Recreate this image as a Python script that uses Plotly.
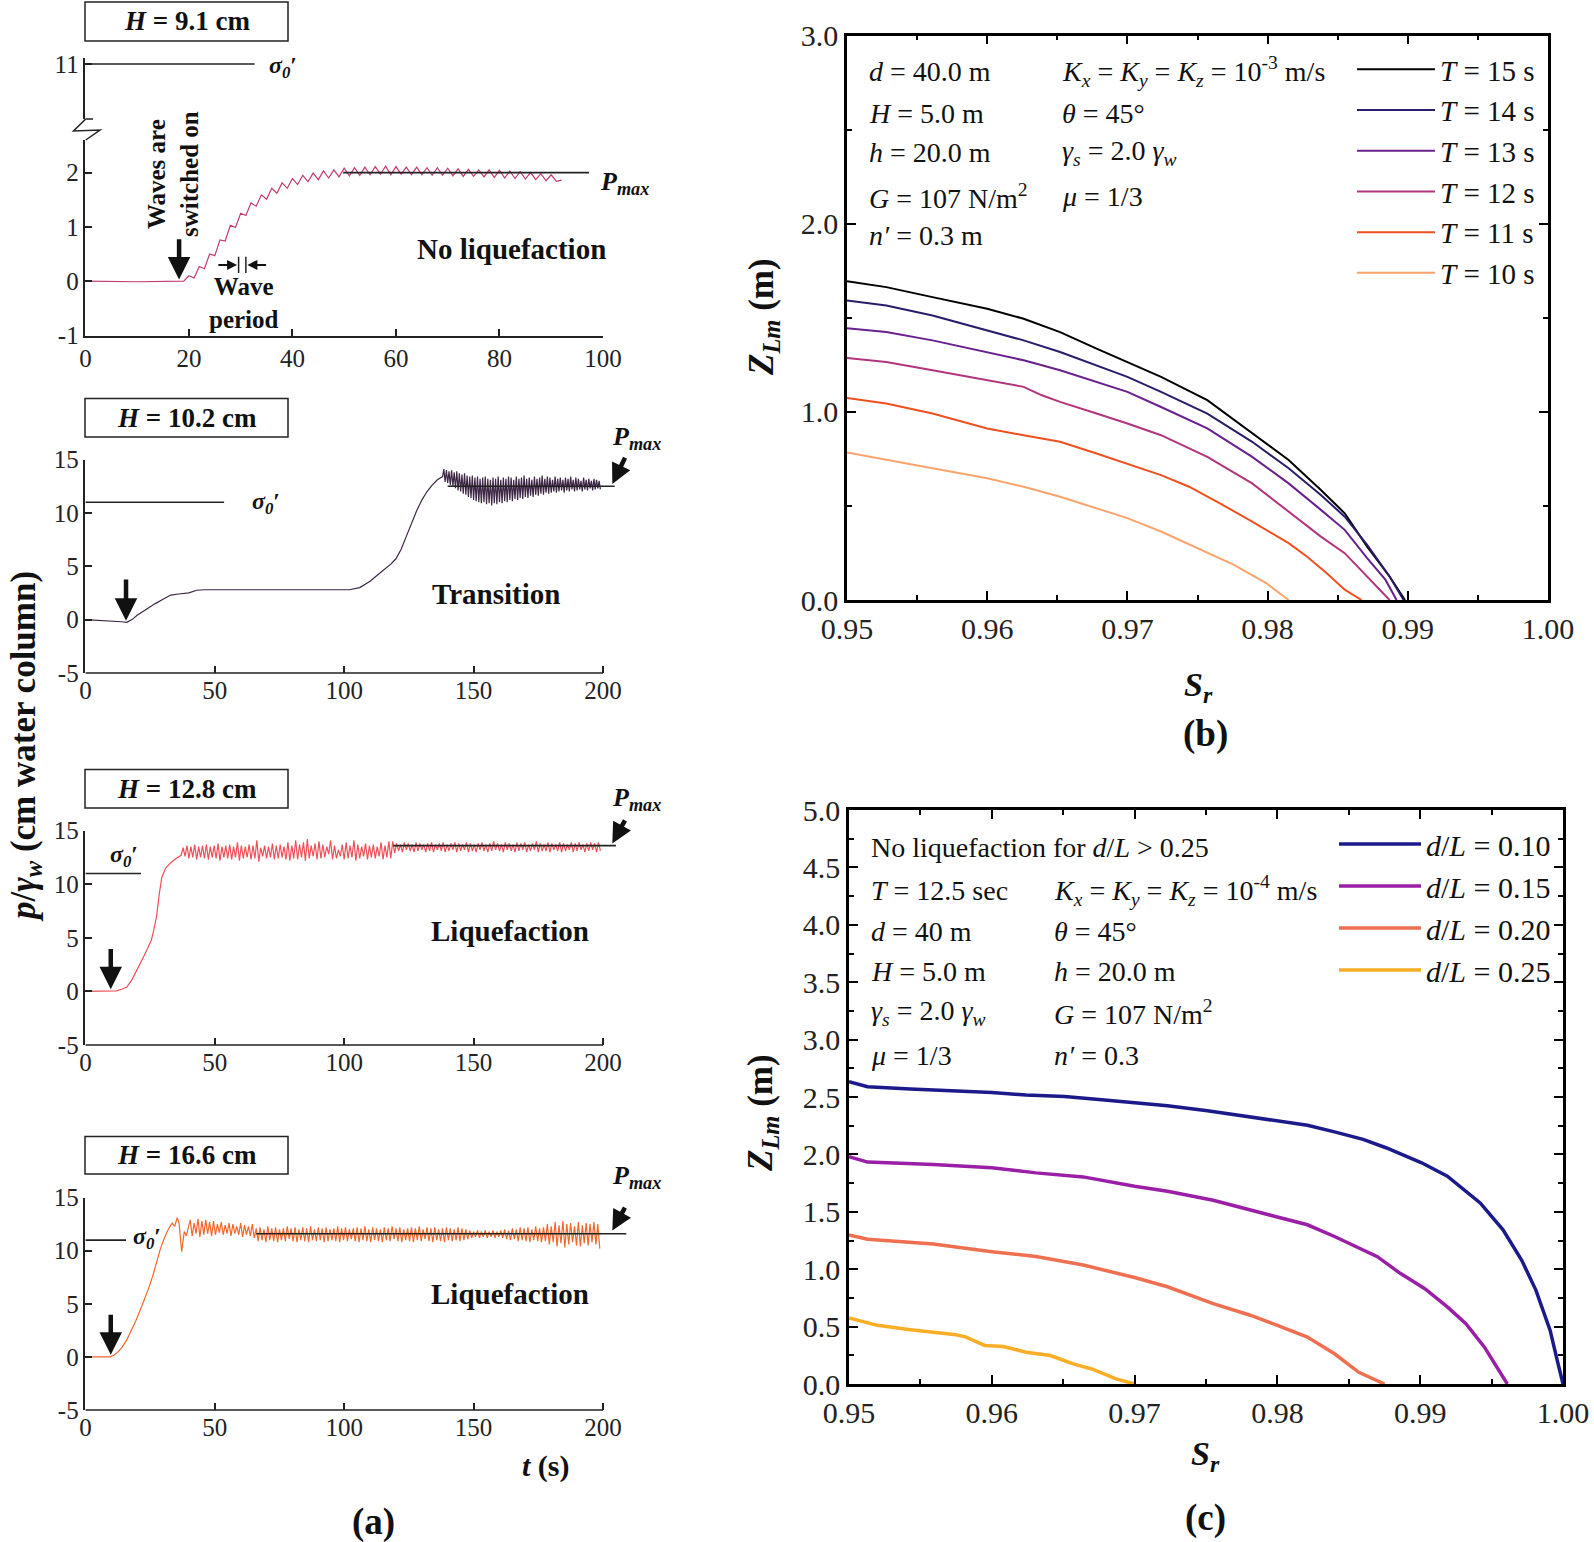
import numpy as np
import plotly.graph_objects as go

W, H = 1594, 1542
FONT = "Liberation Serif"


def px(x):
    return x / W


def py(y):
    return 1 - y / H


# ======================= Panel (a) data =======================
sigma0 = 11.0
a1_ticks_t = [0, 20, 40, 60, 80, 100]
a_ticks_t = [0, 50, 100, 150, 200]
a_ticks_p = [-5, 0, 5, 10, 15]
a_ticks_p_text = ["-5", "0", "5", "10", "15"]
a1_ticks_low = [-1, 0, 1, 2]
a1_ticks_low_text = ["-1", "0", "1", "2"]
a1_ticks_up = [11]

# H = 9.1 cm  (no liquefaction)
a1_t_start = [0, 10, 19]
a1_p_start = [0.0, -0.01, 0.0]
a1_osc_t0, a1_osc_period = 20, 2.0
a1_peaks = [0.10, 0.27, 0.50, 0.76, 1.03, 1.25, 1.44, 1.59, 1.71, 1.81, 1.89, 1.95,
            1.99, 2.03, 2.05, 2.08, 2.09, 2.10, 2.11, 2.12, 2.11, 2.10, 2.10, 2.09,
            2.09, 2.08, 2.07, 2.06, 2.05, 2.05, 2.04, 2.03, 2.02, 2.00, 1.98, 1.96]
a1_troughs = [0.06, 0.23, 0.47, 0.74, 0.99, 1.21, 1.38, 1.51, 1.62, 1.71, 1.78, 1.83,
              1.87, 1.90, 1.92, 1.94, 1.95, 1.96, 1.97, 1.96, 1.97, 1.96, 1.96, 1.95,
              1.95, 1.94, 1.93, 1.93, 1.92, 1.91, 1.90, 1.89, 1.88, 1.87, 1.85, 1.84]
a1_t_end = [92]
a1_p_end = [1.86]
a1_pmax, a1_pmax_span = 2.0, [49.8, 97.3]
a1_sigma_span = [0, 32.7]

# H = 10.2 cm  (transition)
a2_t_start = [0, 5, 10, 14, 16, 18, 20, 23, 27, 30, 33, 36, 40, 43, 46, 60, 80, 102,
              106, 110, 113, 116, 118, 120, 122, 124, 126, 128, 130, 132, 134, 136, 138]
a2_p_start = [0.0, -0.05, -0.1, -0.2, -0.25, 0.0, 0.4, 0.9, 1.5, 1.9, 2.3, 2.4, 2.5, 2.75,
              2.8, 2.8, 2.8, 2.8, 3.0, 3.6, 4.2, 4.8, 5.2, 5.7, 6.6, 7.8, 9.1, 10.2, 11.2,
              12.0, 12.6, 13.1, 13.4]
a2_osc_t0, a2_osc_period = 138.5, 1.0
a2_peaks = [14.1, 14.0, 13.9, 14.0, 13.8, 13.9, 13.7, 13.6, 13.7, 13.5,
            13.4, 13.5, 13.3, 13.4, 13.2, 13.3, 13.4, 13.2, 13.1, 13.3,
            13.2, 13.4, 13.1, 13.3, 13.2, 13.4, 13.3, 13.1, 13.4, 13.2,
            13.3, 13.5, 13.2, 13.3, 13.1, 13.4, 13.2, 13.3, 13.5, 13.2,
            13.4, 13.3, 13.1, 13.4, 13.2, 13.3, 13.1, 13.3, 13.2, 13.4,
            13.1, 13.3, 13.2, 13.0, 13.3, 13.1, 13.2, 13.0, 13.2, 13.1, 13.0]
a2_troughs = [12.9, 12.8, 12.6, 12.5, 12.3, 12.1, 12.0, 11.8, 11.7, 11.5,
              11.4, 11.2, 11.1, 11.0, 10.9, 11.0, 10.8, 10.9, 10.7, 10.9,
              10.8, 11.0, 10.9, 11.1, 11.0, 11.2, 11.1, 11.3, 11.2, 11.4,
              11.3, 11.5, 11.4, 11.6, 11.5, 11.7, 11.6, 11.8, 11.7, 11.9,
              11.8, 11.9, 12.0, 11.9, 12.0, 12.1, 11.9, 12.1, 12.0, 12.2,
              12.0, 12.1, 12.2, 12.0, 12.2, 12.1, 12.3, 12.1, 12.2, 12.3, 12.2]
a2_pmax, a2_pmax_span = 12.5, [140, 204.5]
a2_sigma_span = [0, 53.6]

# H = 12.8 cm  (liquefaction)
a3_t_start = [0, 10, 12, 14, 16, 18, 20, 22, 24, 25.5, 26.5, 27.5, 28.5, 29.5, 31, 33, 35, 37]
a3_p_start = [0.0, 0.0, 0.05, 0.2, 0.4, 1.1, 2.0, 3.0, 4.0, 4.8, 5.8, 7.0, 9.0, 10.6,
              11.5, 12.0, 12.4, 12.7]
a3_osc_t0, a3_osc_period = 37.75, 1.5
a3_peaks = [13.4, 13.6, 13.5, 13.7, 13.5, 13.6, 13.7, 13.5, 13.6, 13.8,
            13.5, 13.6, 13.7, 13.5, 13.9, 13.6, 13.5, 13.7, 13.6, 14.1,
            13.4, 13.6, 13.5, 13.8, 13.6, 13.7, 13.5, 13.9, 13.6, 14.1,
            13.7, 13.9, 14.2, 13.6, 13.8, 14.0, 13.7, 13.5, 14.1, 13.6,
            13.2, 13.7, 13.9, 13.6, 14.1, 13.7, 13.5, 13.8, 13.6, 13.7,
            13.5, 13.9, 13.6, 14.0,
            14.0, 13.8, 13.7, 13.9, 13.8, 13.7, 13.9, 13.8, 13.7, 13.8,
            13.9, 13.7, 13.8, 13.9, 13.7, 13.8, 13.9, 13.8, 13.7, 13.9,
            13.8, 13.7, 13.8, 13.9, 13.7, 13.8, 14.0, 13.8, 13.7, 13.9,
            13.8, 13.7, 13.9, 13.8, 13.9, 13.7, 13.8, 14.0, 13.8, 13.7,
            13.9, 13.8, 13.7, 13.9, 13.8, 13.7, 13.9, 13.8, 13.9, 13.7,
            13.8, 13.9, 13.8, 13.9]
a3_troughs = [12.6, 12.4, 12.5, 12.3, 12.5, 12.4, 12.3, 12.5, 12.4, 12.2,
              12.5, 12.4, 12.3, 12.5, 12.2, 12.4, 12.5, 12.3, 12.4, 12.1,
              12.6, 12.4, 12.5, 12.3, 12.4, 12.5, 12.3, 12.2, 12.4, 12.3,
              12.5, 12.2, 12.4, 12.6, 12.3, 12.4, 12.5, 12.8, 12.3, 12.4,
              12.6, 12.3, 12.4, 12.5, 12.2, 12.4, 12.6, 12.3, 12.5, 12.4,
              12.6, 12.3, 12.5, 12.4,
              12.9, 13.1, 13.0, 13.2, 13.1, 13.0, 13.1, 13.2, 13.0, 13.1,
              13.0, 13.2, 13.1, 13.0, 13.1, 13.2, 13.0, 13.1, 13.2, 13.0,
              13.1, 13.0, 13.2, 13.1, 13.0, 13.1, 13.2, 13.1, 13.0, 13.2,
              13.1, 13.0, 13.1, 13.2, 13.0, 13.1, 13.2, 13.0, 13.1, 13.1,
              13.0, 13.2, 13.1, 13.0, 13.1, 13.2, 13.0, 13.1, 13.2, 13.0,
              13.1, 13.2, 13.0, 13.1]
a3_pmax, a3_pmax_span = 13.6, [119, 205]
a3_sigma_span = [0, 21.5]

# H = 16.6 cm  (liquefaction)
a4_t_start = [0, 9.5, 11, 12.5, 14, 16, 17.5, 19.5, 21.5, 23, 24.5, 26, 27.5, 29, 30.5, 32,
              33.5, 34.5, 35.5, 36.2, 37.2, 38.2, 39, 40]
a4_p_start = [0.0, 0.0, 0.15, 0.45, 0.85, 1.6, 2.4, 3.4, 4.6, 5.5, 6.5, 7.6, 8.9, 10.2,
              11.2, 12.0, 12.6, 12.3, 13.1, 12.6, 9.9, 11.8, 11.4, 12.3]
a4_osc_t0, a4_osc_period = 40.5, 1.5
a4_peaks = [12.9, 12.6, 13.0, 12.8, 12.9, 12.7, 12.8, 12.5, 12.7, 12.4, 12.6, 12.5, 12.3,
            12.6, 12.4, 12.3, 12.5,
            12.1, 12.2, 12.0, 12.3, 12.1, 12.2, 12.0, 12.1, 12.3, 12.1,
            12.2, 12.0, 12.2, 12.1, 12.3, 12.0, 12.2, 12.1, 12.2, 12.0,
            12.1, 12.3, 12.1, 12.2, 12.0, 12.1, 12.2, 12.1, 12.3, 12.0,
            12.2, 12.1, 12.0, 12.2, 12.1, 12.3, 12.1, 12.2, 12.0, 12.1,
            12.2, 12.1, 12.3, 12.0, 12.2, 12.1, 12.2, 12.0, 12.1, 12.2,
            12.1, 12.0, 12.2, 12.1, 12.0, 11.9, 11.8, 11.9, 11.8, 11.9,
            11.8, 11.9, 11.8, 11.9, 12.0, 11.9, 12.1, 12.0, 12.2, 12.1,
            12.2, 12.0, 12.3, 12.1, 12.2,
            12.5, 12.3, 12.7, 12.4, 12.8, 12.5, 12.6, 12.3, 12.7, 12.4, 12.6, 12.5, 12.7, 12.5]
a4_troughs = [11.4, 11.6, 11.3, 11.5, 11.6, 11.4, 11.5, 11.7, 11.5, 11.6, 11.4, 11.6, 11.5,
              11.3, 11.5, 11.4, 11.2,
              10.9, 11.0, 10.8, 11.0, 10.9, 10.8, 11.0, 10.9, 11.1, 10.9,
              10.8, 11.0, 10.9, 10.8, 11.0, 10.9, 11.0, 10.8, 10.9, 11.0,
              10.9, 10.8, 11.0, 10.9, 11.1, 10.9, 10.8, 11.0, 10.9, 10.8,
              11.0, 10.9, 10.8, 11.0, 10.9, 11.1, 10.9, 10.8, 11.0, 10.9,
              10.8, 11.0, 10.9, 11.1, 10.9, 10.8, 11.0, 10.9, 10.8, 11.0,
              10.9, 11.0, 10.9, 11.0, 11.1, 11.2, 11.3, 11.2, 11.3, 11.2,
              11.3, 11.2, 11.3, 11.2, 11.1, 11.0, 11.1, 10.9, 11.0, 10.9,
              10.8, 11.0, 10.9, 10.8, 10.9,
              10.6, 10.8, 10.4, 10.7, 10.3, 10.6, 10.8, 10.5, 10.4, 10.7, 10.5, 10.8, 10.6, 10.2]
a4_pmax, a4_pmax_span = 11.6, [66, 209]
a4_sigma_span = [0, 15.7]

# ======================= Panel (b) data =======================
b_names = ["<i>T</i> = 15 s", "<i>T</i> = 14 s", "<i>T</i> = 13 s",
           "<i>T</i> = 12 s", "<i>T</i> = 11 s", "<i>T</i> = 10 s"]
b_colors = ["#000000", "#2b1b6c", "#68208c", "#b2347c", "#ee5020", "#f9a46c"]
b_T15_sr = [0.950, 0.9528, 0.9561, 0.9600, 0.9626, 0.9652, 0.9678, 0.9700, 0.9724, 0.9757,
            0.9789, 0.9815, 0.9838, 0.9855, 0.9871, 0.9887, 0.9898]
b_T15_z = [1.694, 1.663, 1.61, 1.548, 1.495, 1.424, 1.336, 1.265, 1.186, 1.062,
           0.885, 0.744, 0.585, 0.461, 0.284, 0.125, 0.0]
b_T14_sr = [0.950, 0.9528, 0.9561, 0.9600, 0.9626, 0.9652, 0.9678, 0.9700, 0.9724, 0.9757,
            0.9789, 0.9815, 0.9838, 0.9855, 0.9871, 0.9887, 0.9897]
b_T14_z = [1.592, 1.565, 1.512, 1.433, 1.38, 1.318, 1.247, 1.186, 1.106, 0.991,
           0.841, 0.70, 0.558, 0.443, 0.293, 0.125, 0.0]
b_T13_sr = [0.950, 0.9528, 0.9561, 0.9600, 0.9626, 0.9652, 0.9678, 0.9700, 0.9724, 0.9757,
            0.9789, 0.9815, 0.9838, 0.9855, 0.9871, 0.9884, 0.9892]
b_T13_z = [1.445, 1.424, 1.38, 1.318, 1.274, 1.221, 1.159, 1.106, 1.026, 0.912,
           0.761, 0.62, 0.479, 0.373, 0.223, 0.108, 0.0]
b_T12_sr = [0.950, 0.9528, 0.9561, 0.9600, 0.9626, 0.9639, 0.9652, 0.9678, 0.9700, 0.9724,
            0.9757, 0.9789, 0.9815, 0.9838, 0.9855, 0.9871, 0.9887]
b_T12_z = [1.286, 1.265, 1.221, 1.168, 1.133, 1.088, 1.053, 0.991, 0.938, 0.876,
           0.761, 0.62, 0.47, 0.337, 0.249, 0.125, 0.0]
b_T11_sr = [0.950, 0.9528, 0.9561, 0.9600, 0.9626, 0.9652, 0.9678, 0.9700, 0.9724, 0.9744,
            0.9766, 0.9789, 0.9815, 0.9828, 0.9842, 0.9855, 0.9867]
b_T11_z = [1.074, 1.044, 0.991, 0.912, 0.876, 0.841, 0.779, 0.726, 0.664, 0.602,
           0.514, 0.417, 0.302, 0.231, 0.143, 0.055, 0.0]
b_T10_sr = [0.950, 0.9528, 0.9561, 0.9600, 0.9626, 0.9652, 0.9678, 0.9700, 0.9724, 0.9737,
            0.9757, 0.9776, 0.9799, 0.9815]
b_T10_z = [0.784, 0.744, 0.70, 0.647, 0.602, 0.549, 0.488, 0.435, 0.364, 0.32,
           0.249, 0.187, 0.09, 0.0]
b_sr = [b_T15_sr, b_T14_sr, b_T13_sr, b_T12_sr, b_T11_sr, b_T10_sr]
b_z = [b_T15_z, b_T14_z, b_T13_z, b_T12_z, b_T11_z, b_T10_z]

# ======================= Panel (c) data =======================
c_names = ["<i>d</i>/<i>L</i> = 0.10", "<i>d</i>/<i>L</i> = 0.15",
           "<i>d</i>/<i>L</i> = 0.20", "<i>d</i>/<i>L</i> = 0.25"]
c_colors = ["#1b1a8a", "#9a1fa6", "#ee7050", "#f9ae26"]
c_010_sr = [0.950, 0.9513, 0.9543, 0.9575, 0.9600, 0.9624, 0.9651, 0.9677, 0.9700, 0.9723,
            0.9751, 0.9772, 0.9800, 0.9821, 0.9840, 0.9860, 0.9876, 0.9901, 0.9919, 0.9942,
            0.9958, 0.9971, 0.9981, 0.9991, 0.9996, 1.0000]
c_010_z = [2.634, 2.59, 2.569, 2.549, 2.54, 2.517, 2.505, 2.476, 2.453, 2.423,
           2.38, 2.342, 2.292, 2.254, 2.196, 2.131, 2.058, 1.927, 1.81, 1.577,
           1.343, 1.08, 0.818, 0.467, 0.204, 0.0]
c_015_sr = [0.950, 0.9513, 0.9559, 0.9600, 0.9631, 0.9664, 0.9700, 0.9723, 0.9755, 0.9800,
            0.9821, 0.9840, 0.9870, 0.9886, 0.9903, 0.9919, 0.9932, 0.9945, 0.9955, 0.9961]
c_015_z = [1.98, 1.933, 1.912, 1.883, 1.839, 1.804, 1.723, 1.679, 1.60, 1.46,
           1.387, 1.285, 1.109, 0.964, 0.832, 0.672, 0.526, 0.321, 0.117, 0.0]
c_020_sr = [0.950, 0.9513, 0.9559, 0.9600, 0.9631, 0.9664, 0.9700, 0.9723, 0.9755, 0.9781,
            0.9800, 0.9821, 0.9840, 0.9857, 0.9875]
c_020_z = [1.299, 1.261, 1.22, 1.153, 1.11, 1.036, 0.928, 0.847, 0.70, 0.599,
           0.511, 0.409, 0.263, 0.102, 0.0]
c_025_sr = [0.950, 0.9520, 0.9543, 0.9575, 0.9582, 0.9595, 0.9608, 0.9624, 0.9641, 0.9657,
            0.9670, 0.9687, 0.9700]
c_025_z = [0.575, 0.511, 0.473, 0.429, 0.409, 0.336, 0.327, 0.277, 0.248, 0.175,
           0.131, 0.044, 0.0]
c_sr = [c_010_sr, c_015_sr, c_020_sr, c_025_sr]
c_z = [c_010_z, c_015_z, c_020_z, c_025_z]


def build(t_s, p_s, t0, per, peaks, troughs, t_e=(), p_e=()):
    t, p = list(t_s), list(p_s)
    for i, (hi, lo) in enumerate(zip(peaks, troughs)):
        t += [t0 + i * per, t0 + i * per + per / 2]
        p += [hi, lo]
    return t + list(t_e), p + list(p_e)


a1_t, a1_p = build(a1_t_start, a1_p_start, a1_osc_t0, a1_osc_period, a1_peaks, a1_troughs,
                   a1_t_end, a1_p_end)
a2_t, a2_p = build(a2_t_start, a2_p_start, a2_osc_t0, a2_osc_period, a2_peaks, a2_troughs)
a3_t, a3_p = build(a3_t_start, a3_p_start, a3_osc_t0, a3_osc_period, a3_peaks, a3_troughs)
a4_t, a4_p = build(a4_t_start, a4_p_start, a4_osc_t0, a4_osc_period, a4_peaks, a4_troughs)

fig = go.Figure()

# --- panel (a) traces ---
a_series = [
    ("x", "y", a1_t, a1_p, "#c33a73"),
    ("x3", "y3", a2_t, a2_p, "#3d2745"),
    ("x4", "y4", a3_t, a3_p, "#f0505a"),
    ("x5", "y5", a4_t, a4_p, "#f3672b"),
]
for xa, ya, t, p, col in a_series:
    fig.add_trace(go.Scatter(x=t, y=p, mode="lines", line=dict(color=col, width=1.2),
                             xaxis=xa, yaxis=ya, showlegend=False, hoverinfo="skip"))

# reference lines (sigma0' and Pmax)
ref_lines = [
    ("x2", "y2", a1_sigma_span, sigma0),
    ("x", "y", a1_pmax_span, a1_pmax),
    ("x3", "y3", a2_sigma_span, sigma0),
    ("x3", "y3", a2_pmax_span, a2_pmax),
    ("x4", "y4", a3_sigma_span, sigma0),
    ("x4", "y4", a3_pmax_span, a3_pmax),
    ("x5", "y5", a4_sigma_span, sigma0),
    ("x5", "y5", a4_pmax_span, a4_pmax),
]
for xa, ya, span, val in ref_lines:
    fig.add_trace(go.Scatter(x=span, y=[val, val], mode="lines",
                             line=dict(color="#222", width=1.6),
                             xaxis=xa, yaxis=ya, showlegend=False, hoverinfo="skip"))

# --- panel (b) traces ---
for name, col, sr, z in zip(b_names, b_colors, b_sr, b_z):
    fig.add_trace(go.Scatter(x=sr, y=z, mode="lines", name=name, line=dict(color=col, width=2),
                             xaxis="x6", yaxis="y6", legend="legend", legendgroup=name))
# --- panel (c) traces ---
for name, col, sr, z in zip(c_names, c_colors, c_sr, c_z):
    fig.add_trace(go.Scatter(x=sr, y=z, mode="lines", name=name, line=dict(color=col, width=3.5),
                             xaxis="x7", yaxis="y7", legend="legend2", legendgroup=name))

# ---------------- axes ----------------
A_TICKFONT = dict(family=FONT, size=25, color="#222")


def a_axis(**kw):
    d = dict(showgrid=False, zeroline=False, showline=True, linecolor="#222", linewidth=1.5,
             ticks="inside", ticklen=7, tickwidth=1.5, tickcolor="#222", tickfont=A_TICKFONT,
             automargin=False)
    d.update(kw)
    return d


def bc_axis(**kw):
    d = dict(showgrid=False, zeroline=False, showline=True, linecolor="black", linewidth=2.5,
             mirror="ticks", ticks="inside", ticklen=9, tickwidth=2, tickcolor="black",
             tickfont=dict(family=FONT, size=30, color="#222"), automargin=False)
    d.update(kw)
    return d


a_xdom = [px(85.4), px(603)]
a_xdom_ext = [px(85.4), px(85.4 + 212 * 2.588)]

layout_axes = dict(
    xaxis=a_axis(domain=a_xdom, range=[0, 100], tickvals=a1_ticks_t, anchor="y"),
    yaxis=a_axis(domain=[py(335.5), py(140)], range=[-1, 2.6], tickvals=a1_ticks_low,
                 ticktext=a1_ticks_low_text, anchor="x"),
    xaxis2=a_axis(domain=a_xdom, range=[0, 100], matches="x", anchor="y2", showline=False,
                  ticks="", showticklabels=False),
    yaxis2=a_axis(domain=[py(119), py(58)], range=[9.99, 11.11], tickvals=a1_ticks_up, anchor="x2"),
    xaxis3=a_axis(domain=a_xdom_ext, range=[0, 212], tickvals=a_ticks_t, anchor="y3", showline=False),
    yaxis3=a_axis(domain=[py(673), py(459.5)], range=[-5, 15], tickvals=a_ticks_p,
                  ticktext=a_ticks_p_text, anchor="x3"),
    xaxis4=a_axis(domain=a_xdom_ext, range=[0, 212], tickvals=a_ticks_t, anchor="y4", showline=False),
    yaxis4=a_axis(domain=[py(1045), py(830.6)], range=[-5, 15], tickvals=a_ticks_p,
                  ticktext=a_ticks_p_text, anchor="x4"),
    xaxis5=a_axis(domain=a_xdom_ext, range=[0, 212], tickvals=a_ticks_t, anchor="y5", showline=False),
    yaxis5=a_axis(domain=[py(1410), py(1197.6)], range=[-5, 15], tickvals=a_ticks_p,
                  ticktext=a_ticks_p_text, anchor="x5"),
    xaxis6=bc_axis(domain=[px(847), px(1548)], range=[0.95, 1.0], dtick=0.01, tick0=0.95,
                   tickformat=".2f", anchor="y6",
                   minor=dict(ticks="inside", ticklen=5, tickwidth=2, dtick=0.005, tick0=0.95, tickcolor="black")),
    yaxis6=bc_axis(domain=[py(600), py(35.6)], range=[0, 3], dtick=1, tickformat=".1f", anchor="x6",
                   minor=dict(ticks="inside", ticklen=5, tickwidth=2, dtick=0.5, tickcolor="black")),
    xaxis7=bc_axis(domain=[px(849), px(1563)], range=[0.95, 1.0], dtick=0.01, tick0=0.95,
                   tickformat=".2f", anchor="y7",
                   minor=dict(ticks="inside", ticklen=5, tickwidth=2, dtick=0.005, tick0=0.95, tickcolor="black")),
    yaxis7=bc_axis(domain=[py(1384), py(810)], range=[0, 5], dtick=0.5, tickformat=".1f", anchor="x7",
                   minor=dict(ticks="inside", ticklen=5, tickwidth=2, dtick=0.25, tickcolor="black")),
)

shapes = []
# bottom axis lines of a2..a4 (end at t = 200)
for xa, ya in [("x3", "y3"), ("x4", "y4"), ("x5", "y5")]:
    shapes.append(dict(type="line", xref=xa, yref=ya + " domain", x0=0, x1=200, y0=0, y1=0,
                       line=dict(color="#222", width=1.5)))
# H boxes
for y0, y1 in [(2, 41), (398.5, 437), (769.6, 808), (1136.6, 1174)]:
    shapes.append(dict(type="rect", xref="paper", yref="paper", x0=px(85), x1=px(288),
                       y0=py(y1), y1=py(y0), line=dict(color="#222", width=1.5)))
# axis break symbol (a1)
brk = [(85.7, 119), (73.5, 131), (100, 130), (85.7, 140)]
path = "M " + " L ".join(f"{px(x):.5f},{py(y):.5f}" for x, y in brk)
shapes.append(dict(type="path", xref="paper", yref="paper", path=path,
                   line=dict(color="#222", width=1.5)))
shapes.append(dict(type="line", xref="paper", yref="paper", x0=px(85.7), x1=px(93),
                   y0=py(119), y1=py(119), line=dict(color="#222", width=1.5)))
# wave-period bars
for tt in [29.6, 31.0]:
    shapes.append(dict(type="line", xref="x", yref="y", x0=tt, x1=tt, y0=0.15, y1=0.45,
                       line=dict(color="#222", width=1.5)))

ann = []


def text(x, y, s, size=24, angle=0, xanchor="center", yanchor="middle", color="#111"):
    ann.append(dict(x=px(x), y=py(y), xref="paper", yref="paper", text=s, showarrow=False,
                    font=dict(family=FONT, size=size, color=color), textangle=angle,
                    xanchor=xanchor, yanchor=yanchor))


def arrow(xa, ya, x, y, ax, ay, width=4, size=1.0):
    ann.append(dict(x=x, y=y, ax=ax, ay=ay, xref=xa, yref=ya, axref=xa, ayref=ya, text="",
                    showarrow=True, arrowhead=2, arrowsize=size, arrowwidth=width,
                    arrowcolor="#111", standoff=0, startstandoff=0))


# panel (a) labels
text(186.5, 21.5, "<b><i>H</i> = 9.1 cm</b>", 27)
text(186.5, 418, "<b><i>H</i> = 10.2 cm</b>", 27)
text(186.5, 789, "<b><i>H</i> = 12.8 cm</b>", 27)
text(186.5, 1155, "<b><i>H</i> = 16.6 cm</b>", 27)
sig = "<b><i>σ</i><sub><i>0</i></sub>′</b>"
text(283, 67, sig, 24)
text(266, 503, sig, 24)
text(124, 856, sig, 24)
text(147, 1238, sig, 24)
pm = "<b><i>P</i></b><sub><b><i>max</i></b></sub>"
text(624, 183, pm, 26)
text(636, 438, pm, 26)
text(636, 799, pm, 26)
text(636, 1177, pm, 26)
text(511, 249, "<b>No liquefaction</b>", 29)
text(496, 594, "<b>Transition</b>", 29)
text(510, 931, "<b>Liquefaction</b>", 29)
text(510, 1294, "<b>Liquefaction</b>", 29)
text(173, 174, "<b>Waves are<br>switched on</b>", 25, angle=-90)
text(244, 303, "<b>Wave<br>period</b>", 25)
text(25, 747, "<b><i>p</i>/<i>γ</i><sub><i>w</i></sub> (cm water column)</b>", 35, angle=-90)
text(546, 1466, "<b><i>t</i> (s)</b>", 30)
text(373, 1522, "<b>(a)</b>", 37)

# arrows (a)
arrow("x", "y", 18.1, 0.03, 18.1, 0.8, width=4.5)
arrow("x", "y", 29.3, 0.3, 25.4, 0.3, width=2, size=1.0)
arrow("x", "y", 31.3, 0.3, 35.2, 0.3, width=2, size=1.0)
arrow("x3", "y3", 15.7, -0.1, 15.7, 3.9, width=4.5)
arrow("x4", "y4", 9.8, 0.2, 9.8, 4.1, width=4.5)
arrow("x5", "y5", 9.8, 0.2, 9.8, 4.1, width=4.5)
arrow("x3", "y3", 203.6, 12.7, 208.8, 15.3, width=4.5, size=0.9)
arrow("x4", "y4", 203.6, 13.8, 208.8, 16.1, width=4.5, size=0.9)
arrow("x5", "y5", 203.6, 11.9, 208.8, 14.2, width=4.5, size=0.9)

# panel (b) labels
b_col1 = ["<i>d</i> = 40.0 m", "<i>H</i> = 5.0 m", "<i>h</i> = 20.0 m",
          "<i>G</i> = 107 N/m<sup>2</sup>", "<i>n′</i> = 0.3 m"]
b_col2 = ["<i>K<sub>x</sub></i> = <i>K<sub>y</sub></i> = <i>K<sub>z</sub></i> = 10<sup>-3</sup> m/s",
          "<i>θ</i> = 45°", "<i>γ<sub>s</sub></i> = 2.0 <i>γ<sub>w</sub></i>", "<i>μ</i> = 1/3"]
b_rows = [71.2, 113.9, 152.5, 196, 235.9]
for s, yy in zip(b_col1, b_rows):
    text(867, yy, s, 28, xanchor="left")
for s, yy in zip(b_col2, b_rows):
    text(1060, yy, s, 28, xanchor="left")
text(764, 317, "<b><i>Z</i><sub><i>Lm</i></sub> (m)</b>", 35, angle=-90)
text(1198, 687, "<b><i>S</i><sub><i>r</i></sub></b>", 34)
text(1205, 734, "<b>(b)</b>", 37)

# panel (c) labels
c_rows = [847, 890.5, 931, 971, 1012.5, 1055]
c_col1 = ["No liquefaction for <i>d</i>/<i>L</i> > 0.25", "<i>T</i> = 12.5 sec", "<i>d</i> = 40 m",
          "<i>H</i> = 5.0 m", "<i>γ<sub>s</sub></i> = 2.0 <i>γ<sub>w</sub></i>", "<i>μ</i> = 1/3"]
c_col2 = ["<i>K<sub>x</sub></i> = <i>K<sub>y</sub></i> = <i>K<sub>z</sub></i> = 10<sup>-4</sup> m/s",
          "<i>θ</i> = 45°", "<i>h</i> = 20.0 m", "<i>G</i> = 107 N/m<sup>2</sup>", "<i>n′</i> = 0.3"]
for s, yy in zip(c_col1, c_rows):
    text(869, yy, s, 28, xanchor="left")
for s, yy in zip(c_col2, c_rows[1:]):
    text(1052, yy, s, 28, xanchor="left")
text(762, 1113, "<b><i>Z</i><sub><i>Lm</i></sub> (m)</b>", 35, angle=-90)
text(1205, 1456, "<b><i>S</i><sub><i>r</i></sub></b>", 34)
text(1205, 1518, "<b>(c)</b>", 37)

fig.update_layout(
    width=W, height=H, margin=dict(l=0, r=0, t=0, b=0, pad=0, autoexpand=False),
    paper_bgcolor="white", plot_bgcolor="white",
    font=dict(family=FONT, color="#111"),
    shapes=shapes, annotations=ann,
    legend=dict(x=px(1540), xanchor="right", y=py(44), yanchor="top",
                font=dict(family=FONT, size=29, color="#111"), bgcolor="rgba(0,0,0,0)",
                tracegroupgap=0, itemwidth=78),
    legend2=dict(x=px(1556), xanchor="right", y=py(818), yanchor="top",
                 font=dict(family=FONT, size=30, color="#111"), bgcolor="rgba(0,0,0,0)",
                 tracegroupgap=0, itemwidth=82),
    **layout_axes,
)

fig.write_html("out.html", config={"displayModeBar": False},
               post_script="document.body.style.margin='0px';")
